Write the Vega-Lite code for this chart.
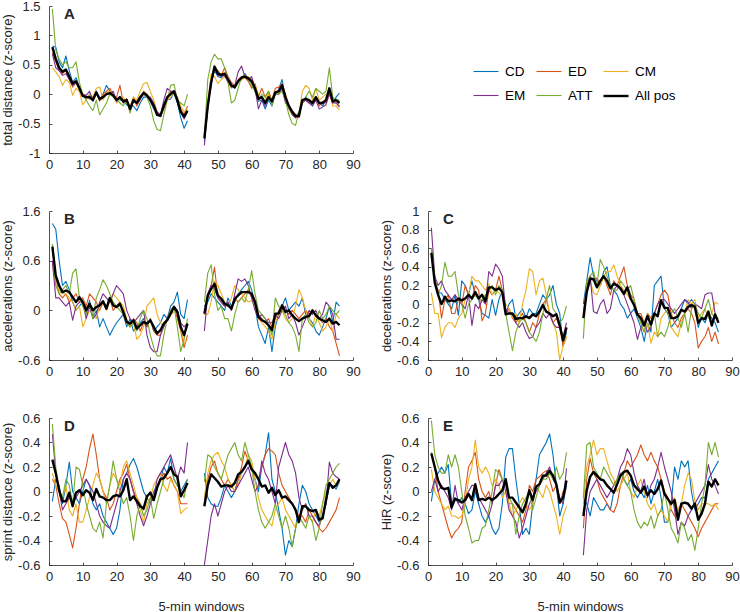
{
"$schema":"https://vega.github.io/schema/vega-lite/v6.json",
"padding":{"left":1,"top":0,"right":0,"bottom":0},
"background":"white",
"bounds":"flush",
"columns":2,
"spacing":{"row":58,"column":75},
"resolve":{"scale":{"color":"shared","strokeWidth":"shared"},"legend":{"color":"shared","strokeWidth":"shared"}},
"config":{
 "font":"Liberation Sans",
 "view":{"stroke":null},
 "locale":{"number":{"decimal":".","thousands":",","grouping":[3],"currency":["$",""],"minus":"-"}},
 "axis":{"grid":false,"domainColor":"#262626","domainWidth":0.8,"tickColor":"#262626","tickWidth":0.8,"tickSize":-3,"labelFont":"Liberation Sans","labelFontSize":13,"labelColor":"#262626","labelFlush":false,"labelOverlap":false,"titleFont":"Liberation Sans","titleFontSize":13,"titleFontWeight":"normal","titleColor":"#262626"},
 "axisX":{"labelPadding":8,"titlePadding":17},
 "axisY":{"labelPadding":12,"titlePadding":3},
 "title":{"anchor":"start","frame":"group","fontSize":15,"fontWeight":"bold","color":"#262626","offset":0,"dx":15,"dy":26,"baseline":"alphabetic"},
 "legend":{"orient":"none","legendX":423,"legendY":52,"columns":3,"direction":"horizontal","title":null,"symbolType":"stroke","symbolSize":625,"labelFontSize":13.5,"labelFont":"Liberation Sans","labelColor":"#000000","labelOffset":5,"columnPadding":9,"rowPadding":4,"padding":0},
 "line":{"strokeJoin":"round"}
},
"datasets":{
"A":[
{"x":1,"h":1,"CD":0.82,"ED":0.7,"CM":0.45,"EM":0.68,"ATT":1.45,"All pos":0.8},
{"x":2,"h":1,"CD":0.8,"ED":0.55,"CM":0.38,"EM":0.45,"ATT":0.75,"All pos":0.6},
{"x":3,"h":1,"CD":0.55,"ED":0.4,"CM":0.3,"EM":0.4,"ATT":0.6,"All pos":0.45},
{"x":4,"h":1,"CD":0.45,"ED":0.35,"CM":0.15,"EM":0.32,"ATT":0.5,"All pos":0.38},
{"x":5,"h":1,"CD":0.65,"ED":0.4,"CM":0.25,"EM":0.35,"ATT":0.55,"All pos":0.42},
{"x":6,"h":1,"CD":0.4,"ED":0.25,"CM":0.2,"EM":0.25,"ATT":0.45,"All pos":0.3},
{"x":7,"h":1,"CD":0.2,"ED":0.12,"CM":-0.02,"EM":0.15,"ATT":0.45,"All pos":0.18},
{"x":8,"h":1,"CD":0.28,"ED":0.2,"CM":0.1,"EM":0.2,"ATT":0.55,"All pos":0.22},
{"x":9,"h":1,"CD":0.12,"ED":0.08,"CM":0.05,"EM":0.12,"ATT":0.2,"All pos":0.1},
{"x":10,"h":1,"CD":-0.02,"ED":0.0,"CM":-0.18,"EM":0.0,"ATT":0.0,"All pos":-0.03},
{"x":11,"h":1,"CD":-0.08,"ED":-0.05,"CM":-0.1,"EM":-0.02,"ATT":-0.1,"All pos":-0.05},
{"x":12,"h":1,"CD":0.0,"ED":-0.08,"CM":0.0,"EM":0.05,"ATT":-0.2,"All pos":-0.05},
{"x":13,"h":1,"CD":-0.12,"ED":-0.05,"CM":-0.05,"EM":-0.1,"ATT":-0.28,"All pos":-0.1},
{"x":14,"h":1,"CD":0.05,"ED":0.05,"CM":0.1,"EM":0.05,"ATT":-0.1,"All pos":0.03},
{"x":15,"h":1,"CD":-0.1,"ED":-0.12,"CM":0.12,"EM":-0.1,"ATT":-0.35,"All pos":-0.08},
{"x":16,"h":1,"CD":0.0,"ED":0.0,"CM":-0.1,"EM":-0.05,"ATT":-0.25,"All pos":-0.05},
{"x":17,"h":1,"CD":0.15,"ED":0.05,"CM":0.02,"EM":0.0,"ATT":-0.15,"All pos":0.0},
{"x":18,"h":1,"CD":0.05,"ED":0.1,"CM":0.05,"EM":0.0,"ATT":0.0,"All pos":0.02},
{"x":19,"h":1,"CD":0.0,"ED":-0.02,"CM":0.0,"EM":0.05,"ATT":-0.05,"All pos":-0.02},
{"x":20,"h":1,"CD":-0.08,"ED":-0.05,"CM":-0.15,"EM":-0.12,"ATT":-0.1,"All pos":-0.1},
{"x":21,"h":1,"CD":-0.1,"ED":0.15,"CM":-0.1,"EM":-0.05,"ATT":-0.15,"All pos":-0.05},
{"x":22,"h":1,"CD":-0.1,"ED":-0.15,"CM":-0.05,"EM":-0.15,"ATT":-0.2,"All pos":-0.12},
{"x":23,"h":1,"CD":-0.18,"ED":-0.08,"CM":-0.15,"EM":-0.08,"ATT":-0.1,"All pos":-0.1},
{"x":24,"h":1,"CD":-0.22,"ED":-0.25,"CM":-0.2,"EM":-0.3,"ATT":-0.32,"All pos":-0.25},
{"x":25,"h":1,"CD":-0.2,"ED":-0.05,"CM":-0.05,"EM":-0.12,"ATT":-0.1,"All pos":-0.1},
{"x":26,"h":1,"CD":-0.28,"ED":-0.2,"CM":-0.1,"EM":-0.15,"ATT":-0.15,"All pos":-0.15},
{"x":27,"h":1,"CD":-0.15,"ED":-0.1,"CM":0.05,"EM":-0.08,"ATT":-0.05,"All pos":-0.05},
{"x":28,"h":1,"CD":-0.05,"ED":0.05,"CM":0.18,"EM":0.0,"ATT":0.0,"All pos":0.02},
{"x":29,"h":1,"CD":-0.05,"ED":0.0,"CM":0.2,"EM":-0.05,"ATT":-0.05,"All pos":-0.02},
{"x":30,"h":1,"CD":-0.12,"ED":-0.08,"CM":0.05,"EM":-0.05,"ATT":-0.2,"All pos":-0.1},
{"x":31,"h":1,"CD":-0.25,"ED":-0.18,"CM":-0.1,"EM":-0.15,"ATT":-0.45,"All pos":-0.2},
{"x":32,"h":1,"CD":-0.3,"ED":-0.3,"CM":-0.3,"EM":-0.3,"ATT":-0.6,"All pos":-0.35},
{"x":33,"h":1,"CD":-0.35,"ED":-0.35,"CM":-0.38,"EM":-0.35,"ATT":-0.62,"All pos":-0.37},
{"x":34,"h":1,"CD":-0.15,"ED":-0.25,"CM":-0.22,"EM":-0.1,"ATT":-0.35,"All pos":-0.2},
{"x":35,"h":1,"CD":-0.1,"ED":-0.1,"CM":-0.1,"EM":0.1,"ATT":-0.1,"All pos":-0.05},
{"x":36,"h":1,"CD":-0.08,"ED":0.05,"CM":-0.05,"EM":0.05,"ATT":0.15,"All pos":0.0},
{"x":37,"h":1,"CD":0.02,"ED":0.02,"CM":0.02,"EM":0.05,"ATT":0.17,"All pos":0.05},
{"x":38,"h":1,"CD":-0.15,"ED":-0.05,"CM":-0.08,"EM":-0.1,"ATT":-0.1,"All pos":-0.1},
{"x":39,"h":1,"CD":-0.4,"ED":-0.25,"CM":-0.2,"EM":-0.3,"ATT":-0.15,"All pos":-0.3},
{"x":40,"h":1,"CD":-0.58,"ED":-0.35,"CM":-0.3,"EM":-0.42,"ATT":-0.2,"All pos":-0.38},
{"x":41,"h":1,"CD":-0.45,"ED":-0.2,"CM":-0.25,"EM":-0.3,"ATT":0.0,"All pos":-0.28},
{"x":46,"h":2,"CD":-0.8,"ED":-0.7,"CM":-0.7,"EM":-0.87,"ATT":-0.7,"All pos":-0.75},
{"x":47,"h":2,"CD":-0.25,"ED":-0.2,"CM":-0.15,"EM":-0.2,"ATT":0.25,"All pos":-0.2},
{"x":48,"h":2,"CD":0.2,"ED":0.25,"CM":0.35,"EM":0.15,"ATT":0.55,"All pos":0.2},
{"x":49,"h":2,"CD":0.4,"ED":0.45,"CM":0.3,"EM":0.45,"ATT":0.68,"All pos":0.47},
{"x":50,"h":2,"CD":0.3,"ED":0.4,"CM":0.18,"EM":0.32,"ATT":0.6,"All pos":0.35},
{"x":51,"h":2,"CD":0.28,"ED":0.32,"CM":0.25,"EM":0.3,"ATT":0.6,"All pos":0.33},
{"x":52,"h":2,"CD":0.35,"ED":0.45,"CM":0.3,"EM":0.32,"ATT":0.45,"All pos":0.35},
{"x":53,"h":2,"CD":0.22,"ED":0.3,"CM":0.22,"EM":0.2,"ATT":0.2,"All pos":0.25},
{"x":54,"h":2,"CD":0.15,"ED":0.2,"CM":0.1,"EM":0.12,"ATT":-0.15,"All pos":0.15},
{"x":55,"h":2,"CD":0.1,"ED":0.15,"CM":0.15,"EM":0.15,"ATT":-0.1,"All pos":0.12},
{"x":56,"h":2,"CD":0.2,"ED":0.25,"CM":0.2,"EM":0.38,"ATT":0.1,"All pos":0.22},
{"x":57,"h":2,"CD":0.25,"ED":0.3,"CM":0.25,"EM":0.48,"ATT":0.3,"All pos":0.28},
{"x":58,"h":2,"CD":0.35,"ED":0.28,"CM":0.28,"EM":0.3,"ATT":0.32,"All pos":0.3},
{"x":59,"h":2,"CD":0.25,"ED":0.22,"CM":0.3,"EM":0.25,"ATT":0.25,"All pos":0.27},
{"x":60,"h":2,"CD":0.2,"ED":0.1,"CM":0.25,"EM":0.3,"ATT":0.15,"All pos":0.22},
{"x":61,"h":2,"CD":0.05,"ED":0.18,"CM":0.15,"EM":0.1,"ATT":0.05,"All pos":0.1},
{"x":62,"h":2,"CD":-0.12,"ED":-0.05,"CM":0.0,"EM":-0.25,"ATT":-0.1,"All pos":-0.08},
{"x":63,"h":2,"CD":-0.1,"ED":0.1,"CM":-0.08,"EM":-0.1,"ATT":0.0,"All pos":-0.05},
{"x":64,"h":2,"CD":-0.25,"ED":-0.05,"CM":-0.1,"EM":-0.2,"ATT":-0.05,"All pos":-0.15},
{"x":65,"h":2,"CD":-0.1,"ED":0.05,"CM":0.0,"EM":-0.05,"ATT":0.05,"All pos":-0.05},
{"x":66,"h":2,"CD":-0.2,"ED":-0.1,"CM":-0.15,"EM":-0.15,"ATT":-0.2,"All pos":-0.12},
{"x":67,"h":2,"CD":0.0,"ED":0.1,"CM":0.05,"EM":0.0,"ATT":0.02,"All pos":0.03},
{"x":68,"h":2,"CD":0.08,"ED":0.12,"CM":0.0,"EM":0.0,"ATT":0.0,"All pos":0.05},
{"x":69,"h":2,"CD":0.25,"ED":0.18,"CM":0.1,"EM":0.1,"ATT":0.05,"All pos":0.15},
{"x":70,"h":2,"CD":-0.05,"ED":0.0,"CM":-0.1,"EM":-0.15,"ATT":-0.1,"All pos":-0.05},
{"x":71,"h":2,"CD":-0.25,"ED":-0.2,"CM":-0.25,"EM":-0.2,"ATT":-0.35,"All pos":-0.2},
{"x":72,"h":2,"CD":-0.32,"ED":-0.28,"CM":-0.35,"EM":-0.35,"ATT":-0.5,"All pos":-0.3},
{"x":73,"h":2,"CD":-0.4,"ED":-0.35,"CM":-0.4,"EM":-0.4,"ATT":-0.53,"All pos":-0.37},
{"x":74,"h":2,"CD":-0.3,"ED":-0.4,"CM":-0.35,"EM":-0.35,"ATT":-0.3,"All pos":-0.37},
{"x":75,"h":2,"CD":-0.15,"ED":-0.1,"CM":0.05,"EM":-0.15,"ATT":-0.15,"All pos":-0.1},
{"x":76,"h":2,"CD":-0.05,"ED":-0.1,"CM":0.15,"EM":-0.1,"ATT":-0.05,"All pos":-0.08},
{"x":77,"h":2,"CD":-0.12,"ED":-0.15,"CM":0.1,"EM":-0.15,"ATT":0.05,"All pos":-0.1},
{"x":78,"h":2,"CD":-0.2,"ED":-0.12,"CM":-0.1,"EM":-0.2,"ATT":-0.05,"All pos":-0.15},
{"x":79,"h":2,"CD":-0.08,"ED":-0.05,"CM":0.1,"EM":-0.1,"ATT":0.1,"All pos":-0.05},
{"x":80,"h":2,"CD":-0.15,"ED":-0.2,"CM":-0.1,"EM":-0.25,"ATT":0.05,"All pos":-0.15},
{"x":81,"h":2,"CD":-0.2,"ED":-0.12,"CM":-0.05,"EM":-0.22,"ATT":0.0,"All pos":-0.15},
{"x":82,"h":2,"CD":-0.1,"ED":-0.15,"CM":0.0,"EM":-0.18,"ATT":0.05,"All pos":-0.1},
{"x":83,"h":2,"CD":0.05,"ED":0.05,"CM":0.02,"EM":0.0,"ATT":0.45,"All pos":0.1},
{"x":84,"h":2,"CD":-0.15,"ED":-0.1,"CM":-0.2,"EM":-0.15,"ATT":-0.05,"All pos":-0.12},
{"x":85,"h":2,"CD":-0.05,"ED":-0.15,"CM":-0.2,"EM":-0.15,"ATT":-0.1,"All pos":-0.1},
{"x":86,"h":2,"CD":0.02,"ED":-0.2,"CM":-0.27,"EM":-0.22,"ATT":-0.1,"All pos":-0.15}
],
"B":[
{"x":1,"h":1,"CD":1.05,"ED":0.8,"CM":0.55,"EM":0.6,"ATT":0.8,"All pos":0.77},
{"x":2,"h":1,"CD":0.98,"ED":0.4,"CM":0.3,"EM":0.15,"ATT":0.3,"All pos":0.42},
{"x":3,"h":1,"CD":0.6,"ED":0.2,"CM":0.25,"EM":0.15,"ATT":0.2,"All pos":0.3},
{"x":4,"h":1,"CD":0.3,"ED":0.15,"CM":0.2,"EM":0.1,"ATT":0.25,"All pos":0.22},
{"x":5,"h":1,"CD":0.35,"ED":0.2,"CM":0.2,"EM":0.05,"ATT":0.3,"All pos":0.24},
{"x":6,"h":1,"CD":0.25,"ED":0.1,"CM":0.15,"EM":0.1,"ATT":0.2,"All pos":0.22},
{"x":7,"h":1,"CD":0.1,"ED":0.15,"CM":0.1,"EM":-0.12,"ATT":0.45,"All pos":0.16},
{"x":8,"h":1,"CD":0.0,"ED":0.2,"CM":0.0,"EM":0.05,"ATT":0.5,"All pos":0.1},
{"x":9,"h":1,"CD":0.05,"ED":0.1,"CM":0.05,"EM":0.1,"ATT":0.15,"All pos":0.16},
{"x":10,"h":1,"CD":0.1,"ED":0.15,"CM":-0.2,"EM":0.1,"ATT":0.05,"All pos":0.1},
{"x":11,"h":1,"CD":-0.05,"ED":0.05,"CM":-0.1,"EM":-0.1,"ATT":-0.05,"All pos":0.0},
{"x":12,"h":1,"CD":0.12,"ED":0.2,"CM":0.0,"EM":0.05,"ATT":0.1,"All pos":0.08},
{"x":13,"h":1,"CD":-0.1,"ED":0.15,"CM":-0.05,"EM":-0.1,"ATT":-0.1,"All pos":0.0},
{"x":14,"h":1,"CD":0.0,"ED":0.1,"CM":-0.1,"EM":-0.05,"ATT":0.15,"All pos":0.04},
{"x":15,"h":1,"CD":-0.2,"ED":0.0,"CM":0.05,"EM":0.1,"ATT":0.25,"All pos":0.06},
{"x":16,"h":1,"CD":-0.1,"ED":0.1,"CM":0.1,"EM":0.2,"ATT":0.37,"All pos":0.11},
{"x":17,"h":1,"CD":-0.2,"ED":0.05,"CM":0.0,"EM":0.15,"ATT":0.3,"All pos":0.02},
{"x":18,"h":1,"CD":-0.3,"ED":0.15,"CM":0.1,"EM":0.1,"ATT":0.2,"All pos":0.15},
{"x":19,"h":1,"CD":-0.22,"ED":0.0,"CM":0.2,"EM":0.2,"ATT":0.1,"All pos":0.06},
{"x":20,"h":1,"CD":-0.15,"ED":0.05,"CM":0.15,"EM":0.3,"ATT":0.05,"All pos":0.04},
{"x":21,"h":1,"CD":-0.1,"ED":0.1,"CM":0.1,"EM":0.25,"ATT":0.0,"All pos":0.08},
{"x":22,"h":1,"CD":-0.05,"ED":-0.05,"CM":0.05,"EM":0.2,"ATT":-0.05,"All pos":-0.02},
{"x":23,"h":1,"CD":-0.2,"ED":-0.15,"CM":-0.1,"EM":0.0,"ATT":-0.15,"All pos":-0.14},
{"x":24,"h":1,"CD":-0.1,"ED":-0.2,"CM":-0.2,"EM":-0.1,"ATT":-0.2,"All pos":-0.16},
{"x":25,"h":1,"CD":-0.25,"ED":-0.1,"CM":-0.15,"EM":-0.15,"ATT":-0.15,"All pos":-0.12},
{"x":26,"h":1,"CD":-0.2,"ED":-0.15,"CM":-0.35,"EM":-0.1,"ATT":-0.25,"All pos":-0.22},
{"x":27,"h":1,"CD":-0.15,"ED":-0.25,"CM":-0.3,"EM":-0.05,"ATT":-0.1,"All pos":-0.18},
{"x":28,"h":1,"CD":-0.1,"ED":-0.15,"CM":-0.2,"EM":0.0,"ATT":0.0,"All pos":-0.14},
{"x":29,"h":1,"CD":-0.2,"ED":-0.2,"CM":0.05,"EM":-0.3,"ATT":-0.1,"All pos":-0.16},
{"x":30,"h":1,"CD":-0.1,"ED":-0.1,"CM":0.1,"EM":-0.45,"ATT":-0.3,"All pos":-0.12},
{"x":31,"h":1,"CD":-0.25,"ED":-0.25,"CM":0.15,"EM":-0.5,"ATT":-0.45,"All pos":-0.2},
{"x":32,"h":1,"CD":-0.2,"ED":-0.3,"CM":-0.05,"EM":-0.5,"ATT":-0.55,"All pos":-0.28},
{"x":33,"h":1,"CD":-0.15,"ED":-0.3,"CM":-0.15,"EM":-0.3,"ATT":-0.55,"All pos":-0.24},
{"x":34,"h":1,"CD":-0.05,"ED":-0.15,"CM":-0.2,"EM":-0.2,"ATT":-0.3,"All pos":-0.16},
{"x":35,"h":1,"CD":-0.1,"ED":-0.1,"CM":-0.1,"EM":-0.1,"ATT":-0.1,"All pos":-0.12},
{"x":36,"h":1,"CD":0.05,"ED":-0.05,"CM":-0.05,"EM":0.0,"ATT":0.0,"All pos":-0.04},
{"x":37,"h":1,"CD":0.1,"ED":0.05,"CM":-0.02,"EM":0.05,"ATT":0.05,"All pos":0.04},
{"x":38,"h":1,"CD":0.22,"ED":-0.1,"CM":0.0,"EM":0.0,"ATT":-0.2,"All pos":-0.02},
{"x":39,"h":1,"CD":-0.05,"ED":-0.25,"CM":-0.2,"EM":-0.15,"ATT":-0.5,"All pos":-0.2},
{"x":40,"h":1,"CD":-0.1,"ED":-0.45,"CM":-0.4,"EM":-0.2,"ATT":-0.35,"All pos":-0.3},
{"x":41,"h":1,"CD":0.13,"ED":-0.3,"CM":-0.35,"EM":-0.15,"ATT":-0.1,"All pos":-0.16},
{"x":46,"h":2,"CD":0.05,"ED":-0.05,"CM":-0.05,"EM":-0.25,"ATT":0.1,"All pos":-0.04},
{"x":47,"h":2,"CD":0.1,"ED":0.15,"CM":-0.05,"EM":0.2,"ATT":0.45,"All pos":0.18},
{"x":48,"h":2,"CD":0.2,"ED":0.3,"CM":0.1,"EM":0.3,"ATT":0.55,"All pos":0.26},
{"x":49,"h":2,"CD":0.15,"ED":0.52,"CM":0.35,"EM":0.25,"ATT":0.2,"All pos":0.32},
{"x":50,"h":2,"CD":0.1,"ED":0.15,"CM":0.3,"EM":0.15,"ATT":0.0,"All pos":0.18},
{"x":51,"h":2,"CD":0.05,"ED":0.1,"CM":0.2,"EM":0.1,"ATT":0.05,"All pos":0.14},
{"x":52,"h":2,"CD":0.0,"ED":0.05,"CM":0.1,"EM":0.05,"ATT":-0.1,"All pos":0.08},
{"x":53,"h":2,"CD":0.15,"ED":0.1,"CM":0.05,"EM":0.1,"ATT":-0.1,"All pos":0.06},
{"x":54,"h":2,"CD":0.05,"ED":0.0,"CM":0.15,"EM":0.0,"ATT":-0.25,"All pos":0.02},
{"x":55,"h":2,"CD":0.1,"ED":0.15,"CM":0.3,"EM":0.2,"ATT":-0.05,"All pos":0.14},
{"x":56,"h":2,"CD":0.2,"ED":0.1,"CM":0.25,"EM":0.38,"ATT":0.1,"All pos":0.18},
{"x":57,"h":2,"CD":0.25,"ED":0.15,"CM":0.2,"EM":0.35,"ATT":0.15,"All pos":0.22},
{"x":58,"h":2,"CD":0.3,"ED":0.2,"CM":0.15,"EM":0.38,"ATT":0.1,"All pos":0.22},
{"x":59,"h":2,"CD":0.35,"ED":0.25,"CM":0.1,"EM":0.3,"ATT":0.25,"All pos":0.22},
{"x":60,"h":2,"CD":0.25,"ED":0.15,"CM":0.12,"EM":0.15,"ATT":0.48,"All pos":0.2},
{"x":61,"h":2,"CD":0.05,"ED":0.1,"CM":0.05,"EM":0.0,"ATT":0.2,"All pos":0.1},
{"x":62,"h":2,"CD":-0.2,"ED":-0.05,"CM":-0.1,"EM":-0.1,"ATT":0.0,"All pos":-0.08},
{"x":63,"h":2,"CD":-0.3,"ED":-0.1,"CM":-0.15,"EM":-0.05,"ATT":-0.05,"All pos":-0.12},
{"x":64,"h":2,"CD":-0.4,"ED":-0.15,"CM":-0.2,"EM":-0.1,"ATT":-0.1,"All pos":-0.14},
{"x":65,"h":2,"CD":-0.2,"ED":-0.1,"CM":-0.25,"EM":-0.15,"ATT":-0.2,"All pos":-0.18},
{"x":66,"h":2,"CD":-0.5,"ED":-0.2,"CM":-0.35,"EM":-0.15,"ATT":-0.3,"All pos":-0.24},
{"x":67,"h":2,"CD":-0.2,"ED":-0.1,"CM":-0.15,"EM":-0.05,"ATT":0.15,"All pos":-0.04},
{"x":68,"h":2,"CD":-0.05,"ED":0.0,"CM":-0.05,"EM":-0.1,"ATT":0.05,"All pos":-0.04},
{"x":69,"h":2,"CD":0.05,"ED":0.05,"CM":0.0,"EM":0.0,"ATT":0.0,"All pos":0.06},
{"x":70,"h":2,"CD":0.15,"ED":0.0,"CM":-0.1,"EM":0.05,"ATT":-0.05,"All pos":-0.02},
{"x":71,"h":2,"CD":0.0,"ED":-0.05,"CM":-0.15,"EM":-0.1,"ATT":-0.15,"All pos":0.0},
{"x":72,"h":2,"CD":0.05,"ED":0.0,"CM":-0.1,"EM":-0.05,"ATT":-0.2,"All pos":-0.06},
{"x":73,"h":2,"CD":0.1,"ED":-0.05,"CM":0.05,"EM":-0.15,"ATT":-0.3,"All pos":-0.1},
{"x":74,"h":2,"CD":0.05,"ED":-0.1,"CM":0.25,"EM":-0.3,"ATT":-0.5,"All pos":-0.13},
{"x":75,"h":2,"CD":0.15,"ED":-0.05,"CM":0.15,"EM":-0.2,"ATT":-0.1,"All pos":-0.1},
{"x":76,"h":2,"CD":-0.05,"ED":0.0,"CM":0.0,"EM":-0.1,"ATT":-0.05,"All pos":-0.08},
{"x":77,"h":2,"CD":-0.1,"ED":-0.05,"CM":-0.1,"EM":0.0,"ATT":-0.15,"All pos":-0.07},
{"x":78,"h":2,"CD":-0.15,"ED":0.0,"CM":-0.2,"EM":-0.05,"ATT":-0.2,"All pos":0.0},
{"x":79,"h":2,"CD":-0.25,"ED":-0.05,"CM":-0.05,"EM":0.0,"ATT":-0.15,"All pos":-0.06},
{"x":80,"h":2,"CD":-0.3,"ED":-0.1,"CM":-0.15,"EM":-0.1,"ATT":0.0,"All pos":-0.1},
{"x":81,"h":2,"CD":-0.2,"ED":-0.15,"CM":-0.25,"EM":-0.05,"ATT":-0.1,"All pos":-0.12},
{"x":82,"h":2,"CD":-0.1,"ED":-0.1,"CM":-0.2,"EM":0.1,"ATT":-0.05,"All pos":-0.14},
{"x":83,"h":2,"CD":0.05,"ED":-0.2,"CM":-0.1,"EM":0.05,"ATT":0.05,"All pos":-0.1},
{"x":84,"h":2,"CD":-0.15,"ED":-0.25,"CM":-0.25,"EM":-0.05,"ATT":0.0,"All pos":-0.16},
{"x":85,"h":2,"CD":0.1,"ED":-0.4,"CM":-0.05,"EM":-0.35,"ATT":-0.05,"All pos":-0.14},
{"x":86,"h":2,"CD":0.05,"ED":-0.55,"CM":-0.1,"EM":-0.35,"ATT":0.0,"All pos":-0.18}
],
"C":[
{"x":1,"h":1,"CD":0.6,"ED":0.58,"CM":0.12,"EM":0.82,"ATT":0.6,"All pos":0.55},
{"x":2,"h":1,"CD":0.25,"ED":0.25,"CM":-0.1,"EM":0.3,"ATT":0.3,"All pos":0.23},
{"x":3,"h":1,"CD":0.12,"ED":0.15,"CM":-0.1,"EM":0.2,"ATT":0.1,"All pos":0.1},
{"x":4,"h":1,"CD":0.12,"ED":-0.15,"CM":-0.36,"EM":0.25,"ATT":0.2,"All pos":0.0},
{"x":5,"h":1,"CD":0.05,"ED":0.05,"CM":-0.25,"EM":0.15,"ATT":0.45,"All pos":0.08},
{"x":6,"h":1,"CD":0.0,"ED":0.1,"CM":-0.2,"EM":0.1,"ATT":0.3,"All pos":0.03},
{"x":7,"h":1,"CD":-0.05,"ED":-0.1,"CM":-0.2,"EM":0.05,"ATT":0.3,"All pos":0.04},
{"x":8,"h":1,"CD":0.1,"ED":-0.1,"CM":-0.25,"EM":0.1,"ATT":0.35,"All pos":0.03},
{"x":9,"h":1,"CD":-0.12,"ED":0.05,"CM":-0.15,"EM":0.05,"ATT":0.1,"All pos":0.06},
{"x":10,"h":1,"CD":0.25,"ED":0.0,"CM":-0.1,"EM":0.0,"ATT":0.0,"All pos":0.04},
{"x":11,"h":1,"CD":0.2,"ED":0.2,"CM":0.05,"EM":-0.05,"ATT":-0.15,"All pos":0.06},
{"x":12,"h":1,"CD":0.1,"ED":0.1,"CM":0.1,"EM":0.1,"ATT":0.0,"All pos":0.1},
{"x":13,"h":1,"CD":0.25,"ED":0.05,"CM":0.3,"EM":-0.23,"ATT":0.05,"All pos":0.06},
{"x":14,"h":1,"CD":0.1,"ED":0.2,"CM":0.25,"EM":0.0,"ATT":0.1,"All pos":0.13},
{"x":15,"h":1,"CD":0.05,"ED":0.15,"CM":0.25,"EM":-0.05,"ATT":0.05,"All pos":0.06},
{"x":16,"h":1,"CD":-0.1,"ED":-0.18,"CM":0.2,"EM":0.05,"ATT":0.05,"All pos":0.1},
{"x":17,"h":1,"CD":-0.12,"ED":-0.1,"CM":0.15,"EM":0.0,"ATT":0.1,"All pos":0.03},
{"x":18,"h":1,"CD":-0.15,"ED":0.15,"CM":0.22,"EM":0.35,"ATT":0.15,"All pos":0.18},
{"x":19,"h":1,"CD":0.05,"ED":0.1,"CM":0.1,"EM":0.3,"ATT":0.2,"All pos":0.18},
{"x":20,"h":1,"CD":-0.12,"ED":0.15,"CM":0.15,"EM":0.43,"ATT":0.1,"All pos":0.15},
{"x":21,"h":1,"CD":0.05,"ED":0.3,"CM":0.12,"EM":0.38,"ATT":0.2,"All pos":0.17},
{"x":22,"h":1,"CD":0.15,"ED":0.15,"CM":0.1,"EM":0.3,"ATT":0.15,"All pos":0.13},
{"x":23,"h":1,"CD":-0.1,"ED":-0.1,"CM":0.0,"EM":-0.05,"ATT":-0.1,"All pos":-0.11},
{"x":24,"h":1,"CD":0.0,"ED":-0.05,"CM":-0.05,"EM":-0.1,"ATT":-0.3,"All pos":-0.1},
{"x":25,"h":1,"CD":0.05,"ED":-0.15,"CM":-0.15,"EM":-0.1,"ATT":-0.5,"All pos":-0.1},
{"x":26,"h":1,"CD":-0.15,"ED":-0.2,"CM":-0.1,"EM":-0.2,"ATT":-0.3,"All pos":-0.16},
{"x":27,"h":1,"CD":-0.1,"ED":-0.15,"CM":-0.2,"EM":-0.25,"ATT":-0.2,"All pos":-0.15},
{"x":28,"h":1,"CD":-0.05,"ED":-0.1,"CM":0.0,"EM":-0.2,"ATT":-0.15,"All pos":-0.15},
{"x":29,"h":1,"CD":-0.15,"ED":-0.2,"CM":0.15,"EM":-0.3,"ATT":-0.2,"All pos":-0.13},
{"x":30,"h":1,"CD":-0.05,"ED":-0.3,"CM":0.38,"EM":-0.37,"ATT":-0.3,"All pos":-0.15},
{"x":31,"h":1,"CD":-0.1,"ED":-0.2,"CM":0.35,"EM":-0.35,"ATT":-0.35,"All pos":-0.11},
{"x":32,"h":1,"CD":-0.1,"ED":-0.25,"CM":0.1,"EM":-0.25,"ATT":-0.4,"All pos":-0.13},
{"x":33,"h":1,"CD":0.0,"ED":-0.1,"CM":0.25,"EM":-0.2,"ATT":-0.3,"All pos":-0.08},
{"x":34,"h":1,"CD":0.1,"ED":0.0,"CM":0.28,"EM":-0.1,"ATT":-0.1,"All pos":-0.01},
{"x":35,"h":1,"CD":0.05,"ED":0.05,"CM":0.1,"EM":-0.15,"ATT":0.05,"All pos":-0.08},
{"x":36,"h":1,"CD":0.1,"ED":-0.1,"CM":-0.1,"EM":-0.1,"ATT":0.2,"All pos":-0.1},
{"x":37,"h":1,"CD":0.2,"ED":-0.2,"CM":-0.2,"EM":-0.2,"ATT":-0.05,"All pos":-0.13},
{"x":38,"h":1,"CD":0.0,"ED":-0.15,"CM":-0.3,"EM":-0.25,"ATT":-0.1,"All pos":-0.11},
{"x":39,"h":1,"CD":-0.1,"ED":-0.25,"CM":-0.6,"EM":-0.25,"ATT":-0.2,"All pos":-0.23},
{"x":40,"h":1,"CD":-0.45,"ED":-0.45,"CM":-0.45,"EM":-0.35,"ATT":-0.15,"All pos":-0.39},
{"x":41,"h":1,"CD":-0.3,"ED":-0.35,"CM":-0.35,"EM":-0.2,"ATT":-0.02,"All pos":-0.25},
{"x":46,"h":2,"CD":0.0,"ED":-0.1,"CM":-0.1,"EM":-0.15,"ATT":-0.37,"All pos":-0.15},
{"x":47,"h":2,"CD":0.25,"ED":0.15,"CM":0.2,"EM":0.2,"ATT":0.25,"All pos":0.13},
{"x":48,"h":2,"CD":0.5,"ED":0.3,"CM":0.25,"EM":0.3,"ATT":0.3,"All pos":0.27},
{"x":49,"h":2,"CD":0.3,"ED":0.25,"CM":0.12,"EM":-0.08,"ATT":0.35,"All pos":0.27},
{"x":50,"h":2,"CD":0.25,"ED":0.28,"CM":0.1,"EM":-0.1,"ATT":0.2,"All pos":0.18},
{"x":51,"h":2,"CD":0.2,"ED":0.2,"CM":0.2,"EM":0.0,"ATT":0.48,"All pos":0.25},
{"x":52,"h":2,"CD":0.35,"ED":0.3,"CM":0.3,"EM":0.05,"ATT":0.4,"All pos":0.3},
{"x":53,"h":2,"CD":0.4,"ED":0.2,"CM":0.35,"EM":-0.1,"ATT":0.3,"All pos":0.25},
{"x":54,"h":2,"CD":0.2,"ED":0.1,"CM":0.35,"EM":-0.05,"ATT":0.2,"All pos":0.17},
{"x":55,"h":2,"CD":0.15,"ED":0.25,"CM":0.42,"EM":0.15,"ATT":0.15,"All pos":0.22},
{"x":56,"h":2,"CD":0.1,"ED":0.2,"CM":0.3,"EM":0.2,"ATT":0.15,"All pos":0.2},
{"x":57,"h":2,"CD":0.0,"ED":0.3,"CM":0.2,"EM":0.15,"ATT":0.25,"All pos":0.17},
{"x":58,"h":2,"CD":-0.05,"ED":0.4,"CM":0.15,"EM":0.1,"ATT":0.2,"All pos":0.11},
{"x":59,"h":2,"CD":-0.15,"ED":0.2,"CM":0.1,"EM":0.0,"ATT":0.15,"All pos":0.18},
{"x":60,"h":2,"CD":-0.1,"ED":0.1,"CM":0.05,"EM":-0.1,"ATT":0.2,"All pos":0.06},
{"x":61,"h":2,"CD":-0.05,"ED":0.05,"CM":0.0,"EM":-0.2,"ATT":0.05,"All pos":-0.01},
{"x":62,"h":2,"CD":-0.15,"ED":-0.1,"CM":-0.1,"EM":-0.38,"ATT":-0.1,"All pos":-0.11},
{"x":63,"h":2,"CD":-0.25,"ED":-0.1,"CM":-0.2,"EM":-0.25,"ATT":-0.2,"All pos":-0.15},
{"x":64,"h":2,"CD":-0.4,"ED":-0.2,"CM":-0.3,"EM":-0.2,"ATT":-0.3,"All pos":-0.23},
{"x":65,"h":2,"CD":-0.2,"ED":-0.1,"CM":-0.2,"EM":-0.3,"ATT":-0.1,"All pos":-0.13},
{"x":66,"h":2,"CD":-0.3,"ED":-0.15,"CM":-0.42,"EM":-0.25,"ATT":-0.25,"All pos":-0.22},
{"x":67,"h":2,"CD":0.2,"ED":-0.1,"CM":-0.3,"EM":-0.1,"ATT":-0.1,"All pos":-0.1},
{"x":68,"h":2,"CD":0.25,"ED":0.0,"CM":-0.35,"EM":0.0,"ATT":-0.35,"All pos":-0.13},
{"x":69,"h":2,"CD":0.3,"ED":0.1,"CM":-0.15,"EM":0.05,"ATT":-0.3,"All pos":0.04},
{"x":70,"h":2,"CD":-0.05,"ED":0.15,"CM":-0.1,"EM":0.05,"ATT":-0.35,"All pos":-0.04},
{"x":71,"h":2,"CD":-0.1,"ED":0.1,"CM":-0.05,"EM":0.0,"ATT":-0.25,"All pos":-0.04},
{"x":72,"h":2,"CD":-0.25,"ED":-0.1,"CM":-0.25,"EM":-0.05,"ATT":-0.1,"All pos":-0.15},
{"x":73,"h":2,"CD":-0.2,"ED":-0.2,"CM":-0.3,"EM":-0.1,"ATT":-0.05,"All pos":-0.15},
{"x":74,"h":2,"CD":-0.15,"ED":-0.25,"CM":-0.35,"EM":-0.05,"ATT":-0.15,"All pos":-0.13},
{"x":75,"h":2,"CD":-0.05,"ED":-0.15,"CM":-0.2,"EM":0.0,"ATT":-0.25,"All pos":-0.06},
{"x":76,"h":2,"CD":0.05,"ED":-0.1,"CM":-0.1,"EM":0.05,"ATT":-0.1,"All pos":-0.08},
{"x":77,"h":2,"CD":0.0,"ED":-0.05,"CM":0.05,"EM":0.02,"ATT":-0.3,"All pos":-0.03},
{"x":78,"h":2,"CD":0.05,"ED":-0.1,"CM":0.0,"EM":-0.05,"ATT":-0.05,"All pos":-0.01},
{"x":79,"h":2,"CD":0.0,"ED":-0.2,"CM":0.05,"EM":0.0,"ATT":0.0,"All pos":-0.03},
{"x":80,"h":2,"CD":-0.25,"ED":-0.47,"CM":-0.15,"EM":-0.02,"ATT":-0.1,"All pos":-0.2},
{"x":81,"h":2,"CD":-0.15,"ED":-0.4,"CM":-0.1,"EM":-0.05,"ATT":-0.15,"All pos":-0.15},
{"x":82,"h":2,"CD":-0.2,"ED":-0.35,"CM":-0.05,"EM":0.1,"ATT":-0.05,"All pos":-0.16},
{"x":83,"h":2,"CD":-0.1,"ED":-0.25,"CM":-0.15,"EM":0.12,"ATT":0.05,"All pos":-0.08},
{"x":84,"h":2,"CD":-0.15,"ED":-0.4,"CM":-0.1,"EM":0.12,"ATT":-0.1,"All pos":-0.23},
{"x":85,"h":2,"CD":-0.2,"ED":-0.3,"CM":0.02,"EM":-0.1,"ATT":-0.15,"All pos":-0.11},
{"x":86,"h":2,"CD":-0.3,"ED":-0.43,"CM":0.0,"EM":-0.2,"ATT":-0.15,"All pos":-0.2}
],
"D":[
{"x":1,"h":1,"CD":-0.08,"ED":0.1,"CM":0.15,"EM":0.47,"ATT":0.55,"All pos":0.26},
{"x":2,"h":1,"CD":0.1,"ED":0.05,"CM":0.05,"EM":0.15,"ATT":0.2,"All pos":0.15},
{"x":3,"h":1,"CD":0.05,"ED":-0.1,"CM":0.0,"EM":0.0,"ATT":0.0,"All pos":0.01},
{"x":4,"h":1,"CD":-0.1,"ED":-0.22,"CM":-0.05,"EM":-0.15,"ATT":-0.05,"All pos":-0.08},
{"x":5,"h":1,"CD":0.05,"ED":-0.25,"CM":0.05,"EM":-0.1,"ATT":0.1,"All pos":-0.08},
{"x":6,"h":1,"CD":0.24,"ED":-0.35,"CM":-0.15,"EM":-0.05,"ATT":0.05,"All pos":-0.01},
{"x":7,"h":1,"CD":0.0,"ED":-0.46,"CM":-0.2,"EM":-0.1,"ATT":-0.1,"All pos":-0.12},
{"x":8,"h":1,"CD":-0.05,"ED":-0.3,"CM":-0.1,"EM":-0.05,"ATT":0.2,"All pos":-0.01},
{"x":9,"h":1,"CD":-0.1,"ED":-0.1,"CM":-0.25,"EM":0.0,"ATT":0.18,"All pos":0.01},
{"x":10,"h":1,"CD":0.0,"ED":0.1,"CM":-0.25,"EM":0.05,"ATT":0.05,"All pos":-0.03},
{"x":11,"h":1,"CD":0.1,"ED":0.2,"CM":-0.15,"EM":0.1,"ATT":-0.1,"All pos":0.01},
{"x":12,"h":1,"CD":0.05,"ED":0.35,"CM":-0.05,"EM":0.05,"ATT":-0.2,"All pos":-0.01},
{"x":13,"h":1,"CD":-0.1,"ED":0.47,"CM":0.05,"EM":0.0,"ATT":-0.3,"All pos":-0.07},
{"x":14,"h":1,"CD":-0.15,"ED":0.3,"CM":0.15,"EM":-0.1,"ATT":-0.33,"All pos":0.02},
{"x":15,"h":1,"CD":-0.1,"ED":0.1,"CM":0.1,"EM":-0.2,"ATT":-0.25,"All pos":-0.04},
{"x":16,"h":1,"CD":-0.2,"ED":0.0,"CM":0.0,"EM":-0.25,"ATT":-0.38,"All pos":-0.05},
{"x":17,"h":1,"CD":-0.25,"ED":-0.05,"CM":-0.1,"EM":-0.28,"ATT":-0.1,"All pos":-0.07},
{"x":18,"h":1,"CD":-0.3,"ED":-0.15,"CM":0.05,"EM":-0.3,"ATT":0.05,"All pos":-0.07},
{"x":19,"h":1,"CD":-0.35,"ED":-0.1,"CM":0.15,"EM":-0.2,"ATT":0.25,"All pos":-0.04},
{"x":20,"h":1,"CD":-0.3,"ED":0.0,"CM":0.1,"EM":-0.1,"ATT":0.1,"All pos":-0.03},
{"x":21,"h":1,"CD":-0.15,"ED":0.1,"CM":0.05,"EM":0.0,"ATT":0.0,"All pos":-0.04},
{"x":22,"h":1,"CD":0.1,"ED":0.15,"CM":0.2,"EM":0.1,"ATT":-0.1,"All pos":0.01},
{"x":23,"h":1,"CD":0.15,"ED":0.22,"CM":0.25,"EM":0.15,"ATT":-0.05,"All pos":0.1},
{"x":24,"h":1,"CD":0.22,"ED":0.1,"CM":0.15,"EM":0.1,"ATT":-0.2,"All pos":-0.07},
{"x":25,"h":1,"CD":0.27,"ED":0.0,"CM":0.05,"EM":0.0,"ATT":-0.4,"All pos":-0.04},
{"x":26,"h":1,"CD":0.2,"ED":-0.05,"CM":-0.05,"EM":-0.1,"ATT":-0.2,"All pos":-0.08},
{"x":27,"h":1,"CD":0.1,"ED":-0.1,"CM":-0.15,"EM":-0.2,"ATT":-0.1,"All pos":-0.12},
{"x":28,"h":1,"CD":0.0,"ED":-0.15,"CM":-0.25,"EM":-0.28,"ATT":-0.2,"All pos":-0.14},
{"x":29,"h":1,"CD":-0.05,"ED":-0.05,"CM":-0.1,"EM":-0.2,"ATT":-0.15,"All pos":-0.04},
{"x":30,"h":1,"CD":-0.1,"ED":0.0,"CM":-0.05,"EM":-0.1,"ATT":-0.05,"All pos":-0.01},
{"x":31,"h":1,"CD":0.0,"ED":-0.05,"CM":0.05,"EM":-0.05,"ATT":-0.22,"All pos":-0.07},
{"x":32,"h":1,"CD":0.05,"ED":0.05,"CM":0.1,"EM":0.1,"ATT":-0.1,"All pos":0.03},
{"x":33,"h":1,"CD":0.1,"ED":0.1,"CM":0.15,"EM":0.15,"ATT":0.0,"All pos":0.1},
{"x":34,"h":1,"CD":0.2,"ED":0.15,"CM":0.05,"EM":0.2,"ATT":0.1,"All pos":0.11},
{"x":35,"h":1,"CD":0.15,"ED":0.1,"CM":0.0,"EM":0.25,"ATT":0.15,"All pos":0.15},
{"x":36,"h":1,"CD":0.27,"ED":0.12,"CM":0.1,"EM":0.3,"ATT":0.2,"All pos":0.2},
{"x":37,"h":1,"CD":0.1,"ED":0.05,"CM":0.05,"EM":0.2,"ATT":0.1,"All pos":0.14},
{"x":38,"h":1,"CD":0.05,"ED":0.0,"CM":0.0,"EM":0.1,"ATT":0.05,"All pos":0.12},
{"x":39,"h":1,"CD":0.0,"ED":-0.1,"CM":-0.18,"EM":0.2,"ATT":0.0,"All pos":-0.04},
{"x":40,"h":1,"CD":0.05,"ED":-0.1,"CM":-0.15,"EM":0.15,"ATT":-0.05,"All pos":0.01},
{"x":41,"h":1,"CD":0.1,"ED":-0.1,"CM":-0.13,"EM":0.4,"ATT":0.1,"All pos":0.07},
{"x":46,"h":2,"CD":0.15,"ED":-0.1,"CM":-0.05,"EM":-0.6,"ATT":0.08,"All pos":-0.12},
{"x":47,"h":2,"CD":-0.05,"ED":0.1,"CM":0.15,"EM":-0.4,"ATT":0.3,"All pos":0.05},
{"x":48,"h":2,"CD":-0.1,"ED":0.2,"CM":0.25,"EM":-0.2,"ATT":0.28,"All pos":0.14},
{"x":49,"h":2,"CD":-0.12,"ED":0.25,"CM":0.3,"EM":-0.1,"ATT":0.2,"All pos":0.11},
{"x":50,"h":2,"CD":-0.12,"ED":0.15,"CM":0.32,"EM":-0.2,"ATT":0.15,"All pos":0.08},
{"x":51,"h":2,"CD":-0.05,"ED":0.1,"CM":0.25,"EM":-0.1,"ATT":0.1,"All pos":0.04},
{"x":52,"h":2,"CD":0.05,"ED":0.05,"CM":0.2,"EM":0.0,"ATT":0.2,"All pos":0.05},
{"x":53,"h":2,"CD":0.0,"ED":0.1,"CM":0.1,"EM":0.05,"ATT":0.3,"All pos":0.05},
{"x":54,"h":2,"CD":-0.05,"ED":0.05,"CM":0.05,"EM":0.0,"ATT":0.35,"All pos":0.04},
{"x":55,"h":2,"CD":0.0,"ED":0.0,"CM":0.0,"EM":0.0,"ATT":0.4,"All pos":0.07},
{"x":56,"h":2,"CD":0.1,"ED":0.1,"CM":0.05,"EM":0.05,"ATT":0.3,"All pos":0.14},
{"x":57,"h":2,"CD":0.15,"ED":0.2,"CM":0.15,"EM":0.1,"ATT":0.25,"All pos":0.16},
{"x":58,"h":2,"CD":0.2,"ED":0.33,"CM":0.2,"EM":0.15,"ATT":0.4,"All pos":0.2},
{"x":59,"h":2,"CD":0.25,"ED":0.25,"CM":0.3,"EM":0.2,"ATT":0.3,"All pos":0.25},
{"x":60,"h":2,"CD":0.2,"ED":0.2,"CM":0.25,"EM":0.1,"ATT":0.2,"All pos":0.18},
{"x":61,"h":2,"CD":0.1,"ED":0.15,"CM":0.1,"EM":0.0,"ATT":0.0,"All pos":0.15},
{"x":62,"h":2,"CD":0.0,"ED":0.1,"CM":-0.05,"EM":0.05,"ATT":-0.15,"All pos":0.1},
{"x":63,"h":2,"CD":0.2,"ED":0.2,"CM":-0.15,"EM":0.25,"ATT":-0.25,"All pos":0.04},
{"x":64,"h":2,"CD":0.3,"ED":0.3,"CM":-0.2,"EM":0.15,"ATT":-0.3,"All pos":0.05},
{"x":65,"h":2,"CD":0.48,"ED":0.35,"CM":-0.25,"EM":0.1,"ATT":-0.25,"All pos":-0.01},
{"x":66,"h":2,"CD":0.1,"ED":0.33,"CM":-0.28,"EM":0.0,"ATT":-0.2,"All pos":0.03},
{"x":67,"h":2,"CD":0.0,"ED":0.3,"CM":-0.15,"EM":-0.1,"ATT":-0.1,"All pos":-0.03},
{"x":68,"h":2,"CD":-0.15,"ED":0.15,"CM":-0.1,"EM":0.2,"ATT":-0.2,"All pos":0.01},
{"x":69,"h":2,"CD":-0.3,"ED":0.05,"CM":-0.05,"EM":0.3,"ATT":-0.3,"All pos":-0.05},
{"x":70,"h":2,"CD":-0.52,"ED":0.0,"CM":-0.15,"EM":0.4,"ATT":-0.2,"All pos":-0.04},
{"x":71,"h":2,"CD":-0.4,"ED":-0.05,"CM":-0.2,"EM":0.3,"ATT":-0.3,"All pos":-0.07},
{"x":72,"h":2,"CD":-0.45,"ED":-0.1,"CM":-0.25,"EM":0.25,"ATT":-0.45,"All pos":-0.1},
{"x":73,"h":2,"CD":-0.3,"ED":-0.15,"CM":-0.3,"EM":0.15,"ATT":-0.3,"All pos":-0.15},
{"x":74,"h":2,"CD":-0.1,"ED":-0.2,"CM":-0.2,"EM":-0.05,"ATT":-0.2,"All pos":-0.25},
{"x":75,"h":2,"CD":0.05,"ED":-0.2,"CM":-0.15,"EM":-0.15,"ATT":-0.25,"All pos":-0.12},
{"x":76,"h":2,"CD":0.0,"ED":-0.25,"CM":-0.1,"EM":-0.1,"ATT":-0.3,"All pos":-0.12},
{"x":77,"h":2,"CD":-0.1,"ED":-0.15,"CM":-0.2,"EM":-0.2,"ATT":-0.2,"All pos":-0.15},
{"x":78,"h":2,"CD":-0.15,"ED":-0.2,"CM":-0.25,"EM":-0.2,"ATT":-0.25,"All pos":-0.16},
{"x":79,"h":2,"CD":-0.2,"ED":-0.25,"CM":-0.15,"EM":-0.25,"ATT":-0.4,"All pos":-0.15},
{"x":80,"h":2,"CD":-0.25,"ED":-0.3,"CM":-0.2,"EM":-0.28,"ATT":-0.3,"All pos":-0.23},
{"x":81,"h":2,"CD":-0.2,"ED":-0.33,"CM":-0.1,"EM":-0.2,"ATT":-0.1,"All pos":-0.22},
{"x":82,"h":2,"CD":-0.1,"ED":-0.3,"CM":0.0,"EM":-0.1,"ATT":0.05,"All pos":-0.07},
{"x":83,"h":2,"CD":0.05,"ED":-0.25,"CM":0.05,"EM":0.24,"ATT":0.1,"All pos":0.07},
{"x":84,"h":2,"CD":0.05,"ED":-0.2,"CM":0.1,"EM":0.15,"ATT":0.15,"All pos":0.03},
{"x":85,"h":2,"CD":0.02,"ED":-0.15,"CM":0.05,"EM":0.12,"ATT":0.2,"All pos":0.05},
{"x":86,"h":2,"CD":0.08,"ED":-0.05,"CM":0.08,"EM":0.1,"ATT":0.23,"All pos":0.1}
],
"E":[
{"x":1,"h":1,"CD":-0.08,"ED":0.32,"CM":0.18,"EM":0.0,"ATT":0.58,"All pos":0.31},
{"x":2,"h":1,"CD":0.1,"ED":0.2,"CM":0.0,"EM":0.1,"ATT":0.3,"All pos":0.2},
{"x":3,"h":1,"CD":0.15,"ED":0.0,"CM":-0.05,"EM":0.0,"ATT":0.2,"All pos":0.09},
{"x":4,"h":1,"CD":0.2,"ED":-0.1,"CM":-0.1,"EM":0.05,"ATT":0.15,"All pos":0.03},
{"x":5,"h":1,"CD":0.15,"ED":-0.2,"CM":-0.15,"EM":0.0,"ATT":0.15,"All pos":0.02},
{"x":6,"h":1,"CD":0.22,"ED":-0.3,"CM":-0.12,"EM":-0.05,"ATT":0.3,"All pos":0.03},
{"x":7,"h":1,"CD":-0.1,"ED":-0.38,"CM":-0.2,"EM":-0.15,"ATT":0.2,"All pos":-0.13},
{"x":8,"h":1,"CD":-0.05,"ED":-0.33,"CM":-0.2,"EM":0.05,"ATT":0.3,"All pos":-0.06},
{"x":9,"h":1,"CD":-0.1,"ED":-0.3,"CM":-0.22,"EM":-0.1,"ATT":0.2,"All pos":-0.07},
{"x":10,"h":1,"CD":-0.05,"ED":-0.25,"CM":-0.2,"EM":-0.15,"ATT":0.0,"All pos":-0.09},
{"x":11,"h":1,"CD":-0.1,"ED":0.0,"CM":-0.1,"EM":-0.05,"ATT":-0.2,"All pos":-0.07},
{"x":12,"h":1,"CD":-0.18,"ED":0.2,"CM":0.1,"EM":0.0,"ATT":-0.3,"All pos":-0.02},
{"x":13,"h":1,"CD":-0.15,"ED":0.25,"CM":0.2,"EM":0.05,"ATT":-0.42,"All pos":-0.07},
{"x":14,"h":1,"CD":0.0,"ED":0.32,"CM":0.42,"EM":0.05,"ATT":-0.4,"All pos":0.06},
{"x":15,"h":1,"CD":-0.1,"ED":0.1,"CM":0.2,"EM":-0.05,"ATT":-0.4,"All pos":-0.07},
{"x":16,"h":1,"CD":-0.2,"ED":0.0,"CM":0.15,"EM":-0.1,"ATT":-0.3,"All pos":-0.06},
{"x":17,"h":1,"CD":-0.25,"ED":-0.05,"CM":0.2,"EM":-0.15,"ATT":-0.28,"All pos":-0.07},
{"x":18,"h":1,"CD":-0.2,"ED":0.0,"CM":0.15,"EM":-0.2,"ATT":-0.15,"All pos":-0.05},
{"x":19,"h":1,"CD":-0.3,"ED":-0.1,"CM":0.05,"EM":-0.1,"ATT":0.0,"All pos":-0.07},
{"x":20,"h":1,"CD":-0.35,"ED":0.05,"CM":0.1,"EM":0.05,"ATT":0.18,"All pos":-0.05},
{"x":21,"h":1,"CD":-0.3,"ED":0.18,"CM":0.05,"EM":0.05,"ATT":0.15,"All pos":-0.02},
{"x":22,"h":1,"CD":-0.1,"ED":0.1,"CM":-0.05,"EM":0.1,"ATT":0.1,"All pos":0.01},
{"x":23,"h":1,"CD":0.28,"ED":0.05,"CM":0.0,"EM":0.0,"ATT":0.05,"All pos":0.1},
{"x":24,"h":1,"CD":0.35,"ED":-0.1,"CM":-0.1,"EM":-0.15,"ATT":-0.05,"All pos":-0.05},
{"x":25,"h":1,"CD":0.35,"ED":-0.1,"CM":-0.2,"EM":-0.2,"ATT":-0.1,"All pos":-0.05},
{"x":26,"h":1,"CD":0.1,"ED":-0.15,"CM":-0.15,"EM":-0.25,"ATT":-0.35,"All pos":-0.09},
{"x":27,"h":1,"CD":-0.1,"ED":-0.2,"CM":-0.1,"EM":-0.38,"ATT":-0.2,"All pos":-0.13},
{"x":28,"h":1,"CD":-0.35,"ED":-0.25,"CM":-0.05,"EM":-0.3,"ATT":-0.1,"All pos":-0.17},
{"x":29,"h":1,"CD":-0.3,"ED":-0.15,"CM":-0.1,"EM":-0.2,"ATT":-0.05,"All pos":-0.1},
{"x":30,"h":1,"CD":-0.35,"ED":0.05,"CM":-0.15,"EM":-0.1,"ATT":0.0,"All pos":0.01},
{"x":31,"h":1,"CD":-0.1,"ED":0.0,"CM":-0.1,"EM":-0.05,"ATT":-0.15,"All pos":-0.07},
{"x":32,"h":1,"CD":0.1,"ED":0.1,"CM":0.05,"EM":0.0,"ATT":-0.05,"All pos":0.04},
{"x":33,"h":1,"CD":0.3,"ED":0.12,"CM":0.0,"EM":0.05,"ATT":0.05,"All pos":0.06},
{"x":34,"h":1,"CD":0.35,"ED":0.15,"CM":-0.05,"EM":0.1,"ATT":0.1,"All pos":0.13},
{"x":35,"h":1,"CD":0.4,"ED":0.17,"CM":0.05,"EM":0.15,"ATT":0.1,"All pos":0.13},
{"x":36,"h":1,"CD":0.47,"ED":0.1,"CM":0.0,"EM":0.2,"ATT":0.15,"All pos":0.17},
{"x":37,"h":1,"CD":0.3,"ED":0.0,"CM":-0.1,"EM":0.1,"ATT":0.1,"All pos":0.13},
{"x":38,"h":1,"CD":0.05,"ED":0.05,"CM":-0.2,"EM":0.05,"ATT":0.2,"All pos":0.06},
{"x":39,"h":1,"CD":-0.2,"ED":-0.1,"CM":-0.35,"EM":-0.05,"ATT":0.1,"All pos":-0.09},
{"x":40,"h":1,"CD":-0.1,"ED":0.0,"CM":-0.2,"EM":-0.1,"ATT":0.15,"All pos":-0.05},
{"x":41,"h":1,"CD":0.05,"ED":0.02,"CM":-0.12,"EM":0.19,"ATT":0.32,"All pos":0.09},
{"x":46,"h":2,"CD":-0.05,"ED":-0.3,"CM":-0.1,"EM":-0.52,"ATT":-0.05,"All pos":-0.2},
{"x":47,"h":2,"CD":-0.1,"ED":0.1,"CM":0.2,"EM":-0.15,"ATT":0.38,"All pos":0.01},
{"x":48,"h":2,"CD":-0.2,"ED":0.27,"CM":0.3,"EM":0.0,"ATT":0.4,"All pos":0.12},
{"x":49,"h":2,"CD":-0.05,"ED":0.15,"CM":0.42,"EM":0.05,"ATT":0.2,"All pos":0.16},
{"x":50,"h":2,"CD":-0.1,"ED":0.1,"CM":0.3,"EM":0.1,"ATT":0.15,"All pos":0.13},
{"x":51,"h":2,"CD":-0.15,"ED":0.0,"CM":0.35,"EM":0.05,"ATT":0.1,"All pos":0.1},
{"x":52,"h":2,"CD":-0.15,"ED":-0.05,"CM":0.35,"EM":0.0,"ATT":0.2,"All pos":0.09},
{"x":53,"h":2,"CD":-0.1,"ED":-0.1,"CM":0.25,"EM":-0.05,"ATT":0.15,"All pos":0.05},
{"x":54,"h":2,"CD":-0.15,"ED":-0.15,"CM":0.15,"EM":0.0,"ATT":0.1,"All pos":0.02},
{"x":55,"h":2,"CD":0.0,"ED":-0.17,"CM":0.1,"EM":0.05,"ATT":0.05,"All pos":-0.01},
{"x":56,"h":2,"CD":0.05,"ED":-0.1,"CM":0.0,"EM":0.1,"ATT":0.1,"All pos":0.06},
{"x":57,"h":2,"CD":0.15,"ED":0.05,"CM":0.05,"EM":0.2,"ATT":0.15,"All pos":0.13},
{"x":58,"h":2,"CD":0.1,"ED":0.15,"CM":0.1,"EM":0.25,"ATT":0.1,"All pos":0.16},
{"x":59,"h":2,"CD":0.05,"ED":0.25,"CM":0.15,"EM":0.35,"ATT":0.05,"All pos":0.17},
{"x":60,"h":2,"CD":0.1,"ED":0.2,"CM":0.0,"EM":0.3,"ATT":0.0,"All pos":0.13},
{"x":61,"h":2,"CD":0.0,"ED":0.25,"CM":-0.05,"EM":0.15,"ATT":-0.15,"All pos":0.05},
{"x":62,"h":2,"CD":-0.05,"ED":0.3,"CM":0.05,"EM":0.05,"ATT":-0.25,"All pos":0.02},
{"x":63,"h":2,"CD":0.0,"ED":0.38,"CM":0.1,"EM":0.0,"ATT":-0.3,"All pos":-0.01},
{"x":64,"h":2,"CD":-0.05,"ED":0.3,"CM":0.0,"EM":0.1,"ATT":-0.25,"All pos":0.04},
{"x":65,"h":2,"CD":0.05,"ED":0.25,"CM":-0.1,"EM":-0.05,"ATT":-0.28,"All pos":-0.03},
{"x":66,"h":2,"CD":-0.1,"ED":0.32,"CM":-0.15,"EM":0.05,"ATT":-0.2,"All pos":0.01},
{"x":67,"h":2,"CD":0.0,"ED":0.25,"CM":-0.1,"EM":0.1,"ATT":-0.3,"All pos":-0.02},
{"x":68,"h":2,"CD":0.1,"ED":0.2,"CM":-0.2,"EM":0.2,"ATT":-0.2,"All pos":0.02},
{"x":69,"h":2,"CD":-0.05,"ED":0.1,"CM":-0.15,"EM":0.32,"ATT":-0.15,"All pos":0.09},
{"x":70,"h":2,"CD":-0.25,"ED":0.0,"CM":-0.2,"EM":0.2,"ATT":0.0,"All pos":-0.02},
{"x":71,"h":2,"CD":-0.25,"ED":-0.05,"CM":-0.25,"EM":0.1,"ATT":-0.15,"All pos":-0.06},
{"x":72,"h":2,"CD":-0.1,"ED":-0.15,"CM":-0.1,"EM":0.0,"ATT":-0.3,"All pos":-0.1},
{"x":73,"h":2,"CD":0.2,"ED":-0.2,"CM":-0.05,"EM":-0.15,"ATT":-0.35,"All pos":-0.07},
{"x":74,"h":2,"CD":0.1,"ED":-0.15,"CM":-0.15,"EM":-0.35,"ATT":-0.42,"All pos":-0.23},
{"x":75,"h":2,"CD":0.25,"ED":-0.1,"CM":-0.1,"EM":-0.25,"ATT":-0.25,"All pos":-0.1},
{"x":76,"h":2,"CD":0.2,"ED":-0.15,"CM":0.05,"EM":-0.28,"ATT":-0.3,"All pos":-0.09},
{"x":77,"h":2,"CD":0.25,"ED":-0.2,"CM":0.15,"EM":-0.2,"ATT":-0.4,"All pos":-0.1},
{"x":78,"h":2,"CD":0.0,"ED":-0.25,"CM":0.1,"EM":-0.15,"ATT":-0.35,"All pos":-0.14},
{"x":79,"h":2,"CD":-0.15,"ED":-0.3,"CM":-0.08,"EM":-0.1,"ATT":-0.48,"All pos":-0.1},
{"x":80,"h":2,"CD":-0.1,"ED":-0.37,"CM":-0.15,"EM":-0.05,"ATT":-0.3,"All pos":-0.23},
{"x":81,"h":2,"CD":-0.05,"ED":-0.3,"CM":-0.1,"EM":0.0,"ATT":-0.1,"All pos":-0.18},
{"x":82,"h":2,"CD":-0.05,"ED":-0.25,"CM":-0.1,"EM":0.05,"ATT":0.05,"All pos":-0.1},
{"x":83,"h":2,"CD":0.1,"ED":-0.2,"CM":-0.1,"EM":0.22,"ATT":0.4,"All pos":0.08},
{"x":84,"h":2,"CD":0.15,"ED":-0.15,"CM":-0.12,"EM":0.1,"ATT":0.3,"All pos":0.04},
{"x":85,"h":2,"CD":0.2,"ED":-0.1,"CM":-0.1,"EM":0.05,"ATT":0.4,"All pos":0.1},
{"x":86,"h":2,"CD":0.25,"ED":-0.1,"CM":-0.15,"EM":-0.02,"ATT":0.28,"All pos":0.05}
]
},
"concat":[
{"width":304,"height":147,"title":{"text":"A"},"data":{"name":"A"},
 "transform":[{"fold":["CD","ED","CM","EM","ATT","All pos"],"as":["pos","v"]}],
 "encoding":{
  "x":{"field":"x","type":"quantitative","scale":{"domain":[0,90],"nice":false},"axis":{"values":[0,10,20,30,40,50,60,70,80,90],"title":null,"format":"d"}},
  "y":{"field":"v","type":"quantitative","scale":{"domain":[-1,1.5],"nice":false,"zero":false},"axis":{"values":[-1,-0.5,0,0.5,1,1.5],"title":"total distance (z-score)","format":"~g"}},
  "color":{"field":"pos","type":"nominal","scale":{"domain":["CD","ED","CM","EM","ATT","All pos"],"range":["#0072BD","#D95319","#EDB120","#7E2F8E","#77AC30","#000000"]}},
  "strokeWidth":{"field":"pos","type":"nominal","scale":{"type":"ordinal","domain":["CD","ED","CM","EM","ATT","All pos"],"range":[1.1,1.1,1.1,1.1,1.1,2.4]}},
  "detail":{"field":"h","type":"nominal"}
 },
 "layer":[
  {"transform":[{"filter":"datum.pos !== 'All pos'"}],"mark":{"type":"line"}},
  {"transform":[{"filter":"datum.pos === 'All pos'"}],"mark":{"type":"line"}}
 ]
},
{"width":304,"height":147,"data":{"values":[]},"mark":"point"},
{"width":304,"height":149,"title":{"text":"B"},"data":{"name":"B"},
 "transform":[{"fold":["CD","ED","CM","EM","ATT","All pos"],"as":["pos","v"]}],
 "encoding":{
  "x":{"field":"x","type":"quantitative","scale":{"domain":[0,90],"nice":false},"axis":{"values":[0,10,20,30,40,50,60,70,80,90],"title":null,"format":"d"}},
  "y":{"field":"v","type":"quantitative","scale":{"domain":[-0.6,1.2],"nice":false,"zero":false},"axis":{"values":[-0.6,0,0.6,1.2],"title":"accelerations (z-score)","labelExpr":"datum.value > 1 ? '1.6' : datum.label","format":"~g"}},
  "color":{"field":"pos","type":"nominal","scale":{"domain":["CD","ED","CM","EM","ATT","All pos"],"range":["#0072BD","#D95319","#EDB120","#7E2F8E","#77AC30","#000000"]}},
  "strokeWidth":{"field":"pos","type":"nominal","scale":{"type":"ordinal","domain":["CD","ED","CM","EM","ATT","All pos"],"range":[1.1,1.1,1.1,1.1,1.1,2.4]}},
  "detail":{"field":"h","type":"nominal"}
 },
 "layer":[
  {"transform":[{"filter":"datum.pos !== 'All pos'"}],"mark":{"type":"line"}},
  {"transform":[{"filter":"datum.pos === 'All pos'"}],"mark":{"type":"line"}}
 ]
},
{"width":304,"height":149,"title":{"text":"C"},"data":{"name":"C"},
 "transform":[{"fold":["CD","ED","CM","EM","ATT","All pos"],"as":["pos","v"]}],
 "encoding":{
  "x":{"field":"x","type":"quantitative","scale":{"domain":[0,90],"nice":false},"axis":{"values":[0,10,20,30,40,50,60,70,80,90],"title":null,"format":"d"}},
  "y":{"field":"v","type":"quantitative","scale":{"domain":[-0.6,1],"nice":false,"zero":false},"axis":{"values":[-0.6,-0.4,-0.2,0,0.2,0.4,0.6,0.8,1],"title":"decelerations (z-score)","format":"~g"}},
  "color":{"field":"pos","type":"nominal","scale":{"domain":["CD","ED","CM","EM","ATT","All pos"],"range":["#0072BD","#D95319","#EDB120","#7E2F8E","#77AC30","#000000"]}},
  "strokeWidth":{"field":"pos","type":"nominal","scale":{"type":"ordinal","domain":["CD","ED","CM","EM","ATT","All pos"],"range":[1.1,1.1,1.1,1.1,1.1,2.4]}},
  "detail":{"field":"h","type":"nominal"}
 },
 "layer":[
  {"transform":[{"filter":"datum.pos !== 'All pos'"}],"mark":{"type":"line"}},
  {"transform":[{"filter":"datum.pos === 'All pos'"}],"mark":{"type":"line"}}
 ]
},
{"width":304,"height":147,"title":{"text":"D"},"data":{"name":"D"},
 "transform":[{"fold":["CD","ED","CM","EM","ATT","All pos"],"as":["pos","v"]}],
 "encoding":{
  "x":{"field":"x","type":"quantitative","scale":{"domain":[0,90],"nice":false},"axis":{"values":[0,10,20,30,40,50,60,70,80,90],"title":"5-min windows","format":"d"}},
  "y":{"field":"v","type":"quantitative","scale":{"domain":[-0.6,0.6],"nice":false,"zero":false},"axis":{"values":[-0.6,-0.4,-0.2,0,0.2,0.4,0.6],"title":"sprint distance (z-score)","format":"~g"}},
  "color":{"field":"pos","type":"nominal","scale":{"domain":["CD","ED","CM","EM","ATT","All pos"],"range":["#0072BD","#D95319","#EDB120","#7E2F8E","#77AC30","#000000"]}},
  "strokeWidth":{"field":"pos","type":"nominal","scale":{"type":"ordinal","domain":["CD","ED","CM","EM","ATT","All pos"],"range":[1.1,1.1,1.1,1.1,1.1,2.4]}},
  "detail":{"field":"h","type":"nominal"}
 },
 "layer":[
  {"transform":[{"filter":"datum.pos !== 'All pos'"}],"mark":{"type":"line"}},
  {"transform":[{"filter":"datum.pos === 'All pos'"}],"mark":{"type":"line"}}
 ]
},
{"width":304,"height":147,"title":{"text":"E"},"data":{"name":"E"},
 "transform":[{"fold":["CD","ED","CM","EM","ATT","All pos"],"as":["pos","v"]}],
 "encoding":{
  "x":{"field":"x","type":"quantitative","scale":{"domain":[0,90],"nice":false},"axis":{"values":[0,10,20,30,40,50,60,70,80,90],"title":"5-min windows","format":"d"}},
  "y":{"field":"v","type":"quantitative","scale":{"domain":[-0.6,0.6],"nice":false,"zero":false},"axis":{"values":[-0.6,-0.4,-0.2,0,0.2,0.4,0.6],"title":"HiR (z-score)","format":"~g"}},
  "color":{"field":"pos","type":"nominal","scale":{"domain":["CD","ED","CM","EM","ATT","All pos"],"range":["#0072BD","#D95319","#EDB120","#7E2F8E","#77AC30","#000000"]}},
  "strokeWidth":{"field":"pos","type":"nominal","scale":{"type":"ordinal","domain":["CD","ED","CM","EM","ATT","All pos"],"range":[1.1,1.1,1.1,1.1,1.1,2.4]}},
  "detail":{"field":"h","type":"nominal"}
 },
 "layer":[
  {"transform":[{"filter":"datum.pos !== 'All pos'"}],"mark":{"type":"line"}},
  {"transform":[{"filter":"datum.pos === 'All pos'"}],"mark":{"type":"line"}}
 ]
}
]
}
